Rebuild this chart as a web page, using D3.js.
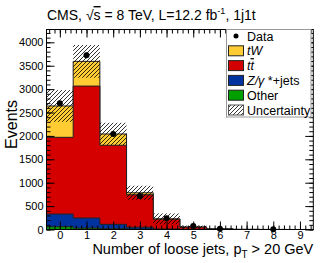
<!DOCTYPE html>
<html>
<head>
<meta charset="utf-8">
<script src="https://cdn.jsdelivr.net/npm/d3@7"></script>
<style>
  body { margin: 0; background: #fff; }
  text { font-family: "Liberation Sans", Arial, Helvetica, sans-serif; }
</style>
</head>
<body>
<div id="chart"></div>
<script>
// bins: number of loose jets
var bins = [0, 1, 2, 3, 4, 5, 6, 7, 8, 9];
var other = [60, 30, 15, 8, 2, 1, 0, 0, 0, 0];
var zjets = [270, 215, 95, 40, 8, 2, 0.5, 0, 0, 0];
var ttbar = [1640, 2820, 1690, 695, 210, 48, 12, 3, 1, 0.3];
var tw = [670, 528, 241, 42, 8, 2, 0.5, 0, 0, 0];
var data = [2697, 3722, 2040, 716, 239, 75, 18, 0, 5, 0];
var uncert = [340, 350, 240, 150, 115, 30, 8, 2, 1, 0.5];
var yTicks = [0, 500, 1000, 1500, 2000, 2500, 3000, 3500, 4000];

var width = 332, height = 263,
    margin = {top: 29.5, right: 18.7, bottom: 33.5, left: 46.5};

var svg = d3.select("#chart").append("svg")
  .attr("width", width).attr("height", height);

var defs = svg.append("defs");
defs.append("pattern")
  .attr("id", "hatch")
  .attr("patternUnits", "userSpaceOnUse")
  .attr("width", 4).attr("height", 4)
  .append("path")
  .attr("d", "M-1,1 l2,-2 M0,4 l4,-4 M3,5 l2,-2")
  .attr("stroke", "#000").attr("stroke-width", 0.8);

var x = d3.scaleLinear().domain([-0.5, 9.5]).range([margin.left, width - margin.right]);
var y = d3.scaleLinear().domain([0, 4274]).range([height - margin.bottom, margin.top]);

var rows = bins.map((b, i) => ({bin: b, other: other[i], zjets: zjets[i], ttbar: ttbar[i], tw: tw[i]}));
var keys = ["other", "zjets", "ttbar", "tw"];
var colors = {other: "#00a000", zjets: "#0033a0", ttbar: "#d40000", tw: "#ffcc33"};
var series = d3.stack().keys(keys)(rows);

// filled stack, drawn top layer first so lower ones sit over it
var stepLine = d3.line();
series.slice().reverse().forEach(s => {
  var pts = [[x(-0.5), y(0)]];
  s.forEach((d, i) => {
    pts.push([x(bins[i] - 0.5), y(d[1])]);
    pts.push([x(bins[i] + 0.5), y(d[1])]);
  });
  pts.push([x(9.5), y(0)]);
  svg.append("path")
    .attr("d", stepLine(pts) + "Z")
    .attr("fill", colors[s.key])
    .attr("stroke", "#222")
    .attr("stroke-width", 1);
});

// uncertainty band
var totals = series[series.length - 1].map(d => d[1]);
svg.selectAll(".unc")
  .data(bins)
  .enter().append("rect")
  .attr("class", "unc")
  .attr("x", d => x(d - 0.5))
  .attr("width", x(1) - x(0))
  .attr("y", (d, i) => y(totals[i] + uncert[i]))
  .attr("height", (d, i) => y(Math.max(0, totals[i] - uncert[i])) - y(totals[i] + uncert[i]))
  .attr("fill", "url(#hatch)");

// data points
var pts = bins.map((b, i) => ({bin: b, v: data[i]})).filter(d => d.v > 0);
svg.selectAll(".err")
  .data(pts)
  .enter().append("line")
  .attr("x1", d => x(d.bin)).attr("x2", d => x(d.bin))
  .attr("y1", d => y(d.v + Math.sqrt(d.v))).attr("y2", d => y(d.v - Math.sqrt(d.v)))
  .attr("stroke", "#000");
svg.selectAll(".pt")
  .data(pts)
  .enter().append("circle")
  .attr("cx", d => x(d.bin)).attr("cy", d => y(d.v))
  .attr("r", 3).attr("fill", "#000");

// axes with minor ticks, mirrored on top/right
var plotH = height - margin.top - margin.bottom;
var plotW = width - margin.left - margin.right;
function tickAxis(g) {
  g.selectAll(".domain").remove();
  g.selectAll("line").attr("stroke", "#000");
}
var yMinor = d3.range(0, 4274, 100);
var xMinor = d3.range(-0.4, 9.5, 0.2).map(v => Math.round(v * 10) / 10);

svg.append("g").attr("transform", `translate(${margin.left},0)`)
  .call(d3.axisLeft(y).tickValues(yTicks).tickSize(-8).tickPadding(3).tickFormat(d3.format("d")))
  .call(tickAxis)
  .call(g => g.selectAll("text").attr("font-size", 11).attr("fill", "#000"));
svg.append("g").attr("transform", `translate(${margin.left},0)`)
  .call(d3.axisLeft(y).tickValues(yMinor).tickSize(-4).tickFormat(""))
  .call(tickAxis);
svg.append("g").attr("transform", `translate(${width - margin.right},0)`)
  .call(d3.axisRight(y).tickValues(yTicks).tickSize(-8).tickFormat(""))
  .call(tickAxis);
svg.append("g").attr("transform", `translate(${width - margin.right},0)`)
  .call(d3.axisRight(y).tickValues(yMinor).tickSize(-4).tickFormat(""))
  .call(tickAxis);

svg.append("g").attr("transform", `translate(0,${height - margin.bottom})`)
  .call(d3.axisBottom(x).tickValues(bins).tickSize(-8).tickPadding(2).tickFormat(d3.format("d")))
  .call(tickAxis)
  .call(g => g.selectAll("text").attr("font-size", 11).attr("fill", "#000"));
svg.append("g").attr("transform", `translate(0,${height - margin.bottom})`)
  .call(d3.axisBottom(x).tickValues(xMinor).tickSize(-4).tickFormat(""))
  .call(tickAxis);
svg.append("g").attr("transform", `translate(0,${margin.top})`)
  .call(d3.axisTop(x).tickValues(bins).tickSize(-8).tickFormat(""))
  .call(tickAxis);
svg.append("g").attr("transform", `translate(0,${margin.top})`)
  .call(d3.axisTop(x).tickValues(xMinor).tickSize(-4).tickFormat(""))
  .call(tickAxis);

svg.append("rect")
  .attr("x", margin.left).attr("y", margin.top)
  .attr("width", plotW).attr("height", plotH)
  .attr("fill", "none").attr("stroke", "#000").attr("stroke-width", 1);

// legend
var lg = svg.append("g");
lg.append("rect")
  .attr("x", 226.5).attr("y", 29.5).attr("width", 84.5).attr("height", 87.5)
  .attr("fill", "#fff").attr("stroke", "#999");
var legendItems = [
  {label: "Data", type: "pt"},
  {label: "tW", type: "box", fill: colors.tw},
  {label: "tt", type: "box", fill: colors.ttbar},
  {label: "Z/γ*+jets", type: "box", fill: colors.zjets},
  {label: "Other", type: "box", fill: colors.other},
  {label: "Uncertainty", type: "box", fill: "url(#hatch)"}
];
legendItems.forEach((it, i) => {
  var cy = 36 + i * 14.8;
  if (it.type === "pt") {
    lg.append("circle").attr("cx", 236).attr("cy", cy).attr("r", 2.5).attr("fill", "#000");
  } else {
    lg.append("rect").attr("x", 228.5).attr("y", cy - 5).attr("width", 15).attr("height", 10)
      .attr("fill", it.fill).attr("stroke", i === 5 ? "#555" : "#222");
  }
  var t = lg.append("text").attr("x", 247).attr("y", cy + 4.5).attr("font-size", 12.5).attr("fill", "#000");
  if (it.label === "tW") {
    t.append("tspan").attr("font-style", "italic").text("tW");
  } else if (it.label === "tt") {
    t.append("tspan").attr("font-style", "italic").text("t");
    t.append("tspan").attr("font-style", "italic").style("text-decoration", "overline").text("t");
  } else if (it.label === "Z/γ*+jets") {
    t.append("tspan").attr("font-style", "italic").text("Z/γ");
    t.append("tspan").text(" *+jets");
  } else {
    t.text(it.label);
  }
});

// title
var title = svg.append("text").attr("x", 47).attr("y", 20).attr("font-size", 14).attr("fill", "#000");
title.append("tspan").text("CMS, √");
title.append("tspan").style("text-decoration", "overline").text("s");
title.append("tspan").text(" = 8 TeV, L=12.2 fb");
title.append("tspan").attr("font-size", 9).attr("dy", -6).text("-1");
title.append("tspan").attr("dy", 6).text(", 1j1t");

// axis titles
var xt = svg.append("text").attr("x", width - margin.right).attr("y", 254)
  .attr("text-anchor", "end").attr("font-size", 14.5).attr("fill", "#000");
xt.append("tspan").text("Number of loose jets, p");
xt.append("tspan").attr("font-size", 10).attr("dy", 4).text("T");
xt.append("tspan").attr("dy", -4).text(" > 20 GeV");

svg.append("text")
  .attr("transform", "translate(17,100) rotate(-90)")
  .attr("text-anchor", "end").attr("font-size", 16).attr("fill", "#000")
  .text("Events");
</script>
</body>
</html>
